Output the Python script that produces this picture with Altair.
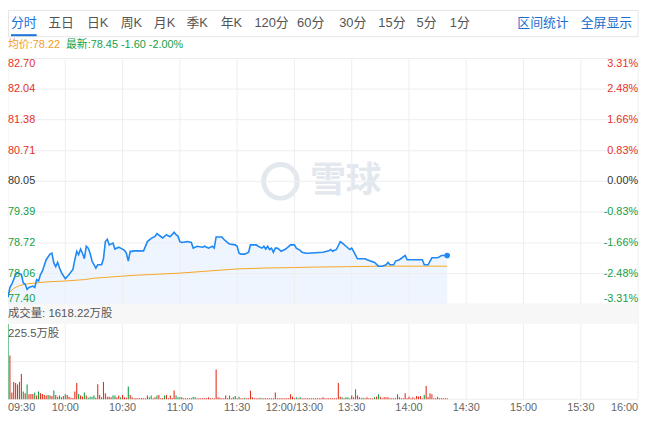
import altair as alt
import pandas as pd

# ---------------- data ----------------
prev_close = 80.05
last_price = 78.45
avg_last = 78.22
change = -1.60
change_pct = -2.00
total_volume = 1618.22      # 万股
max_volume = 225.5          # 万股

price_ticks = [82.70, 82.04, 81.38, 80.71, 80.05, 79.39, 78.72, 78.06, 77.40]
pct_ticks = ["3.31%", "2.48%", "1.66%", "0.83%", "0.00%", "-0.83%", "-1.66%", "-2.48%", "-3.31%"]
time_ticks = ["09:30", "10:00", "10:30", "11:00", "11:30", "12:00/13:00",
              "13:30", "14:00", "14:30", "15:00", "15:30", "16:00"]
tabs = ["分时", "五日", "日K", "周K", "月K", "季K", "年K", "120分", "60分", "30分", "15分", "5分", "1分"]
links = ["区间统计", "全屏显示"]

price_times = [
    "09:30", "09:31", "09:32", "09:34", "09:35", "09:37", "09:38", "09:39", "09:40", "09:41",
    "09:43", "09:44", "09:45", "09:46", "09:47", "09:48", "09:50", "09:52", "09:53", "09:54",
    "09:55", "09:56", "09:57", "09:58", "10:00", "10:02", "10:04", "10:05", "10:06", "10:07",
    "10:08", "10:09", "10:10", "10:11", "10:12", "10:13", "10:14", "10:16", "10:17", "10:19",
    "10:20", "10:21", "10:22", "10:23", "10:25", "10:26", "10:28", "10:29", "10:31", "10:32",
    "10:33", "10:34", "10:35", "10:36", "10:41", "10:43", "10:45", "10:47", "10:48", "10:50",
    "10:51", "10:53", "10:54", "10:55", "10:57", "10:58", "10:59", "11:00", "11:01", "11:04",
    "11:06", "11:07", "11:09", "11:12", "11:13", "11:15", "11:17", "11:18", "11:19", "11:22",
    "11:23", "11:25", "11:26", "11:29", "11:30", "11:31", "11:32", "11:34", "11:36", "11:37",
    "11:40", "11:41", "11:43", "11:44", "11:45", "11:46", "11:47", "11:48", "11:49", "11:50",
    "11:51", "11:52", "11:53", "11:55", "11:56", "11:58", "12:00", "13:01", "13:03", "13:04",
    "13:06", "13:07", "13:15", "13:17", "13:18", "13:19", "13:20", "13:22", "13:24", "13:25",
    "13:27", "13:29", "13:30", "13:31", "13:33", "13:37", "13:38", "13:42", "13:44", "13:46",
    "13:48", "13:49", "13:50", "13:52", "13:53", "13:55", "13:58", "13:59", "14:07", "14:08",
    "14:10", "14:12", "14:15", "14:17", "14:20",
]
price_values = [
    77.55, 77.76, 77.83, 78.04, 78.08, 78.04, 77.86, 77.83, 77.72, 77.76,
    77.79, 77.76, 77.93, 77.90, 78.04, 78.11, 78.36, 78.48, 78.50, 78.29,
    78.21, 78.30, 78.18, 78.08, 77.95, 78.04, 78.15, 78.36, 78.54, 78.47,
    78.59, 78.50, 78.38, 78.65, 78.61, 78.50, 78.33, 78.18, 78.25, 78.25,
    78.38, 78.75, 78.80, 78.68, 78.72, 78.59, 78.63, 78.61, 78.56, 78.50,
    78.33, 78.54, 78.54, 78.55, 78.55, 78.75, 78.82, 78.86, 78.92, 78.86,
    78.83, 78.90, 78.87, 78.86, 78.95, 78.90, 78.87, 78.75, 78.73, 78.75,
    78.73, 78.61, 78.65, 78.63, 78.65, 78.61, 78.65, 78.61, 78.85, 78.85,
    78.80, 78.73, 78.70, 78.68, 78.65, 78.50, 78.48, 78.48, 78.52, 78.68,
    78.68, 78.65, 78.61, 78.65, 78.59, 78.65, 78.58, 78.61, 78.52, 78.61,
    78.61, 78.58, 78.54, 78.58, 78.61, 78.68, 78.68, 78.61, 78.56, 78.52,
    78.50, 78.50, 78.52, 78.54, 78.55, 78.58, 78.54, 78.58, 78.75, 78.72,
    78.65, 78.58, 78.61, 78.54, 78.38, 78.38, 78.36, 78.30, 78.22, 78.22,
    78.25, 78.30, 78.25, 78.25, 78.33, 78.36, 78.45, 78.36, 78.36, 78.25,
    78.25, 78.40, 78.40, 78.45, 78.45,
]

avg_times = ["09:30", "09:33", "09:36", "09:40", "09:45", "09:50", "10:00", "10:10", "10:15",
             "10:25", "10:35", "10:45", "11:00", "11:10", "11:20", "11:30", "11:45", "12:00",
             "13:10", "13:30", "13:45", "14:20"]
avg_values = [77.62, 77.74, 77.80, 77.84, 77.86, 77.88, 77.90, 77.93, 77.96,
              77.99, 78.02, 78.04, 78.07, 78.10, 78.13, 78.16, 78.18, 78.19,
              78.20, 78.21, 78.22, 78.22]

# volume per minute from 09:30 (万股), and up (R) / down (G) flag
volumes = [
    225.5, 131, 20, 52, 49, 44, 52, 76, 23, 18,
    44, 15, 16, 16, 20, 11, 23, 18, 16, 13,
    11, 13, 11, 10, 26, 13, 8, 11, 6, 10,
    15, 13, 8, 5, 4, 23, 49, 16, 11, 8,
    20, 11, 5, 8, 8, 11, 5, 45, 13, 6,
    52, 18, 8, 8, 6, 11, 11, 6, 11, 6,
    13, 6, 5, 38, 13, 6, 3, 4, 3, 3,
    4, 3, 3, 11, 6, 11, 3, 6, 11, 13,
    3, 4, 11, 13, 3, 11, 4, 26, 11, 6,
    6, 6, 3, 3, 3, 3, 4, 8, 6, 3,
    3, 3, 3, 3, 3, 6, 3, 3, 3, 89,
    6, 5, 3, 3, 11, 3, 11, 3, 6, 10,
    3, 8, 3, 3, 5, 3, 3, 26, 6, 3,
    3, 3, 5, 3, 3, 3, 3, 3, 3, 3,
    20, 3, 3, 3, 3, 3, 3, 3, 15, 8,
    3, 6, 3, 6, 3, 3, 3, 3, 3, 3,
    3, 3, 3, 3, 3, 6, 3, 3, 3, 3,
    3, 3, 3, 49, 8, 6, 3, 6, 6, 3,
    11, 6, 30, 11, 6, 3, 5, 3, 6, 3,
    3, 3, 6, 8, 15, 8, 3, 6, 6, 6,
    3, 3, 3, 3, 15, 6, 3, 3, 18, 3,
    8, 3, 6, 3, 10, 8, 10, 3, 13, 40,
    6, 18, 15, 3, 3, 8, 3, 3, 3, 3, 3,
]
vol_dirs = list(
    "GRRRRRGRGR" "GRRRGRGRRR" "RGRRGRGGGR" "GRRRRRRGRR" "GRGGGGRRRG"
    "RRRRRGGRRG" "RRRGRRRRRR" "RRRRGGRRGR" "RRGRRRRRGG" "GRRRRRRGGR"
    "RRRRRRRRRR" "RRRRRRGRRG" "RGRRGRRRRR" "RRGRRRRRRR" "RRRRRRRRRR"
    "RGRGRRRRRR" "RRRRRRRRRR" "RRRRRGRGGR" "RRGRRRGRRR" "RRGRGRRRRR"
    "RRRRRGRRRR" "RRRRRRRRGR" "RRRRRRRRRRR"
)

# ---------------- layout / style ----------------
W, H = 648, 418
X0, X1 = 0, 636          # plot area, horizontal
PY0, PY1 = 297, 49       # price panel (bottom, top)
VY0, VY1 = 393, 317      # volume panel (bottom, top)
RED, GREEN, GREY = "#e4301f", "#13a048", "#333333"
BLUE, ORANGE = "#1e88f5", "#f5a623"
GRID = "#eeeeee"
FONT = "Liberation Sans, Noto Sans CJK SC, sans-serif"
CJK = "Noto Sans CJK SC"


def session_minute(t):
    t = t.split("/")[-1]
    h, m = map(int, t.split(":"))
    mins = h * 60 + m
    if mins <= 12 * 60:
        return mins - (9 * 60 + 30)
    return mins - 13 * 60 + 150


def xenc(field="m"):
    return alt.X(f"{field}:Q", scale=alt.Scale(domain=[0, 330], range=[X0, X1], nice=False, zero=False), axis=None)


def pyenc(field):
    return alt.Y(f"{field}:Q", scale=alt.Scale(domain=[price_ticks[-1], price_ticks[0]], range=[PY0, PY1],
                                               nice=False, zero=False), axis=None)


def vyenc(field):
    return alt.Y(f"{field}:Q", scale=alt.Scale(domain=[0, max_volume], range=[VY0, VY1], nice=False, zero=False),
                 axis=None)


one = pd.DataFrame({"k": [0]})

price_df = pd.DataFrame({"m": [session_minute(t) for t in price_times], "p": price_values})
avg_df = pd.DataFrame({"m": [session_minute(t) for t in avg_times], "a": avg_values})
vol_df = pd.DataFrame({"m": list(range(len(volumes))), "v": volumes, "d": vol_dirs})
tick_df = pd.DataFrame({"lab": time_ticks, "m": [session_minute(t) for t in time_ticks]})


def pdir(p):
    if abs(p - prev_close) < 1e-9:
        return "flat"
    return "up" if p > prev_close else "down"


plab_df = pd.DataFrame({
    "p": price_ticks,
    "lab": [f"{v:.2f}" for v in price_ticks],
    "pct": pct_ticks,
    "dir": [pdir(v) for v in price_ticks],
})
dir_color = alt.Color("dir:N", scale=alt.Scale(domain=["up", "flat", "down"], range=[RED, GREY, GREEN]), legend=None)

layers = []

# tab bar frame
layers.append(alt.Chart(one).mark_rect(fill="white", stroke="#e6e6e6", strokeWidth=1).encode(
    x=alt.value(0.5), x2=alt.value(636), y=alt.value(0.5), y2=alt.value(27)))
# active tab underline
layers.append(alt.Chart(one).mark_rect(fill="#1a73d9").encode(
    x=alt.value(3), x2=alt.value(29), y=alt.value(24.5), y2=alt.value(26.5)))

tab_x = [16, 53.5, 90.5, 124.5, 158, 191, 225.5, 266, 305.5, 348, 387.5, 422.5, 456]
for i, (lab, xp) in enumerate(zip(tabs, tab_x)):
    layers.append(alt.Chart(pd.DataFrame({"t": [lab]})).mark_text(
        font=FONT, fontSize=13, baseline="middle", align="center",
        color="#1a73d9" if i == 0 else "#555555").encode(
        x=alt.value(xp), y=alt.value(13.5), text="t:N"))
for lab, xp in zip(links, [540, 604]):
    layers.append(alt.Chart(pd.DataFrame({"t": [lab]})).mark_text(
        font=FONT, fontSize=13, baseline="middle", align="center", color="#1a6fd0").encode(
        x=alt.value(xp), y=alt.value(13.5), text="t:N"))

# info row
layers.append(alt.Chart(pd.DataFrame({"t": [f"均价:{avg_last:.2f}"]})).mark_text(
    font=FONT, fontSize=11, baseline="middle", align="left", color="#f39a1e").encode(
    x=alt.value(0), y=alt.value(35.5), text="t:N"))
layers.append(alt.Chart(pd.DataFrame({"t": [f"最新:{last_price:.2f} {change:.2f} {change_pct:.2f}%"]})).mark_text(
    font=FONT, fontSize=11, baseline="middle", align="left", color=GREEN).encode(
    x=alt.value(58.5), y=alt.value(35.5), text="t:N"))

# watermark
layers.append(alt.Chart(one).mark_point(shape="circle", filled=False, color="#e3e7ee", strokeWidth=5,
                                        size=1150, opacity=1).encode(x=alt.value(275), y=alt.value(173)))
layers.append(alt.Chart(pd.DataFrame({"t": ["雪球"]})).mark_text(
    font=CJK, fontSize=36, fontWeight="bold", baseline="middle", align="center", color="#e3e7ee").encode(
    x=alt.value(341), y=alt.value(173), text="t:N"))

# price area, lines
layers.append(alt.Chart(price_df).mark_area(color="#e8f2fd", opacity=0.75).encode(
    x=xenc(), y=pyenc("p"), y2=alt.datum(price_ticks[-1])))

# grid lines
layers.append(alt.Chart(tick_df).mark_rule(color=GRID, strokeWidth=1).encode(
    x=xenc(), y=alt.value(PY1), y2=alt.value(VY0)))
layers.append(alt.Chart(plab_df).mark_rule(color=GRID, strokeWidth=1).encode(
    y=pyenc("p"), x=alt.value(X0), x2=alt.value(X1)))
layers.append(alt.Chart(pd.DataFrame({"g": [0, max_volume / 2]})).mark_rule(color=GRID, strokeWidth=1).encode(
    y=vyenc("g"), x=alt.value(X0), x2=alt.value(X1)))

layers.append(alt.Chart(avg_df).mark_line(color=ORANGE, strokeWidth=1).encode(x=xenc(), y=pyenc("a")))
layers.append(alt.Chart(price_df).mark_line(color=BLUE, strokeWidth=1.6).encode(x=xenc(), y=pyenc("p")))
layers.append(alt.Chart(price_df.tail(1)).mark_circle(color=BLUE, size=32, opacity=1).encode(
    x=xenc(), y=pyenc("p")))

# price labels (left) and percent labels (right)
for sub, base in [(plab_df.iloc[[0]], "top"), (plab_df.iloc[1:-1], "middle"), (plab_df.iloc[[-1]], "bottom")]:
    layers.append(alt.Chart(sub).mark_text(font=FONT, fontSize=11, align="left", baseline=base).encode(
        x=alt.value(0), y=pyenc("p"), text="lab:N", color=dir_color))
    layers.append(alt.Chart(sub).mark_text(font=FONT, fontSize=11, align="right", baseline=base).encode(
        x=alt.value(X1), y=pyenc("p"), text="pct:N", color=dir_color))

# volume header band
layers.append(alt.Chart(one).mark_rect(fill="#f7f7f7").encode(
    x=alt.value(X0), x2=alt.value(X1), y=alt.value(PY0), y2=alt.value(VY1)))
layers.append(alt.Chart(pd.DataFrame({"t": [f"成交量: {total_volume:.2f}万股"]})).mark_text(
    font=FONT, fontSize=11.5, baseline="middle", align="left", color="#555555").encode(
    x=alt.value(0), y=alt.value(307), text="t:N"))
layers.append(alt.Chart(pd.DataFrame({"t": [f"{max_volume}万股"]})).mark_text(
    font=FONT, fontSize=11.5, baseline="middle", align="left", color="#555555").encode(
    x=alt.value(0), y=alt.value(327), text="t:N"))

# volume bars
layers.append(alt.Chart(vol_df).mark_rule(strokeWidth=1.1).encode(
    x=xenc(), y=vyenc("v"), y2=alt.datum(0),
    color=alt.Color("d:N", scale=alt.Scale(domain=["R", "G"], range=[RED, GREEN]), legend=None)))

# time labels
for sub, al in [(tick_df.iloc[[0]], "left"), (tick_df.iloc[1:-1], "center"), (tick_df.iloc[[-1]], "right")]:
    layers.append(alt.Chart(sub).mark_text(font=FONT, fontSize=11, align=al, baseline="middle",
                                           color="#666666").encode(
        x=xenc(), y=alt.value(402), text="lab:N"))

chart = alt.layer(*layers).resolve_scale(x="independent", y="independent", color="independent").properties(
    width=W, height=H, autosize=alt.AutoSizeParams(type="none"), padding=0
).configure_view(strokeWidth=0)

chart.save("out.html", embed_options={"renderer": "svg", "actions": False})
